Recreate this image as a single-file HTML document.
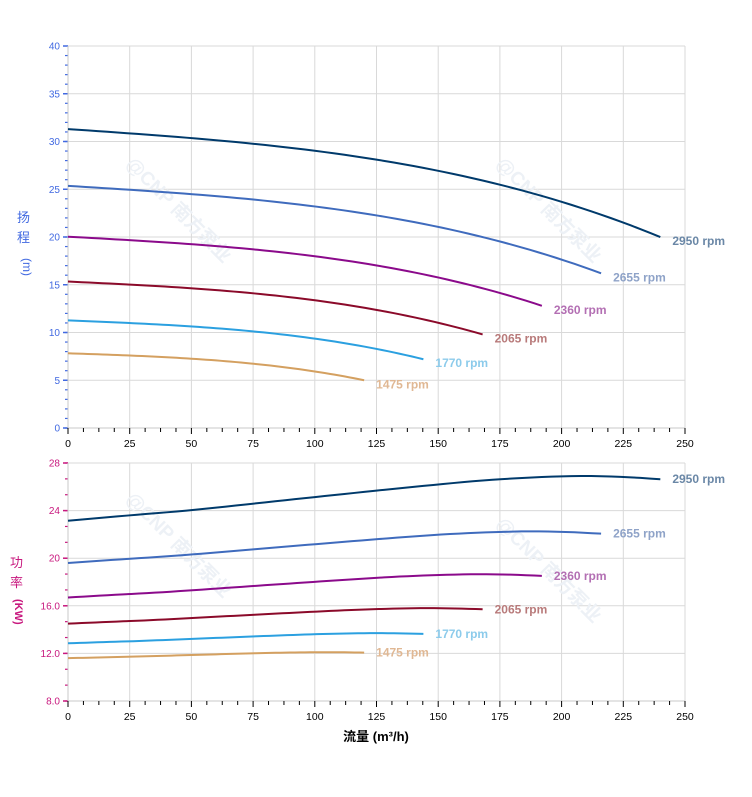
<!DOCTYPE html>
<html><head><meta charset="utf-8">
<style>
html,body{margin:0;padding:0;background:#fff;}
svg{display:block;font-family:"Liberation Sans","Noto Sans CJK SC",sans-serif;}
</style></head>
<body>
<svg id="c" width="752" height="797" viewBox="0 0 752 797" xmlns="http://www.w3.org/2000/svg">
<g id="grid"></g>
<g id="wm" fill="#edf1f6" font-size="19" font-weight="bold">
<text x="0" y="0" transform="translate(125,165) rotate(45)">@CNP 南方泵业</text>
<text x="0" y="0" transform="translate(495,165) rotate(45)">@CNP 南方泵业</text>
<text x="0" y="0" transform="translate(125,500) rotate(45)">@CNP 南方泵业</text>
<text x="0" y="0" transform="translate(495,525) rotate(45)">@CNP 南方泵业</text>
</g>
<g id="curves" fill="none" stroke-width="2"></g>
<g id="labels" font-size="12" font-weight="bold"></g>
<g fill="#4169e1" font-size="13">
<text x="17" y="222">扬</text><text x="17" y="242">程</text>
<text x="23" y="258" transform="rotate(90 23 258)" font-size="12">(m)</text>
</g>
<g fill="#c8187e" font-size="13">
<text x="10" y="567">功</text><text x="10" y="587">率</text>
<text x="15" y="599" transform="rotate(90 15 599)" font-size="11" font-weight="bold">(KW)</text>
</g>
<text x="376" y="741" text-anchor="middle" font-size="13" font-weight="bold" fill="#000">流量 (m³/h)</text>
</svg>
<script>
const NS="http://www.w3.org/2000/svg";
const g=document.getElementById('grid'),cv=document.getElementById('curves'),lb=document.getElementById('labels');
function el(p,tag,a,txt){const e=document.createElementNS(NS,tag);for(const k in a)e.setAttribute(k,a[k]);if(txt!==undefined)e.textContent=txt;p.appendChild(e);return e;}
const X0=68,X1=685;const xs=q=>X0+q*(X1-X0)/250;
const T0=46,T1=428;const yT=h=>T1-h*(T1-T0)/40;
const B0=463,B1=701;const yB=p=>B1-(p-8)*(B1-B0)/20;
function chart(top,bot,yvals,yf,ycol,fmt,minorStep,minor0,minorMax){
  for(let q=0;q<=250;q+=25){el(g,'line',{x1:xs(q),x2:xs(q),y1:top,y2:bot,stroke:'#d9d9d9','stroke-width':1});}
  for(const v of yvals){el(g,'line',{x1:X0,x2:X1,y1:yf(v),y2:yf(v),stroke:'#d9d9d9','stroke-width':1});
    el(g,'line',{x1:X0-5,x2:X0,y1:yf(v),y2:yf(v),stroke:ycol,'stroke-width':1.5});
    el(g,'text',{x:X0-8,y:yf(v)+3.5,'text-anchor':'end','font-size':10,fill:ycol},fmt(v));}
  for(let v=minor0;v<minorMax;v+=minorStep){el(g,'line',{x1:X0-3,x2:X0,y1:yf(v),y2:yf(v),stroke:ycol,'stroke-width':1.2});}
  el(g,'line',{x1:X0,x2:X0,y1:top,y2:bot,stroke:'#c8c8c8','stroke-width':1});
  el(g,'line',{x1:X0,x2:X1,y1:bot,y2:bot,stroke:'#c8c8c8','stroke-width':1});
  for(let q=0;q<=250.01;q+=6.25){const maj=Math.abs(q/25-Math.round(q/25))<1e-6;
    el(g,'line',{x1:xs(q),x2:xs(q),y1:bot,y2:bot+(maj?6:4),stroke:'#000','stroke-width':1});}
  for(let q=0;q<=250;q+=25)el(g,'text',{x:xs(q),y:bot+19,'text-anchor':'middle','font-size':10.5,fill:'#000'},q);
}
chart(T0,T1,[0,5,10,15,20,25,30,35,40],yT,'#4169e1',v=>v,1,0,40);
chart(B0,B1,[8,12,16,20,24,28],yB,'#c8187e',v=>(v%1===0&&v!==20&&v!==24&&v!==28)?v.toFixed(1):String(v),4/3,8,28);
const series=[
 {r:1,c:'#003a6b',lc:'#6a87a6',p0:23.15,rise:3.75,t:'2950 rpm'},
 {r:0.9,c:'#3f6bbd',lc:'#8fa3c8',p0:19.6,rise:2.65,t:'2655 rpm'},
 {r:0.8,c:'#8b0a8b',lc:'#b36fb3',p0:16.7,rise:1.95,t:'2360 rpm'},
 {r:0.7,c:'#8b0a2a',lc:'#b87a7a',p0:14.5,rise:1.3,t:'2065 rpm'},
 {r:0.6,c:'#2ba0e0',lc:'#8ccbeb',p0:12.85,rise:0.85,t:'1770 rpm'},
 {r:0.5,c:'#d4a060',lc:'#e0b894',p0:11.6,rise:0.5,t:'1475 rpm'}];
const H=q=>31.3-0.0176*q-5.12e-7*q*q*q;
const fp=[[0,0],[0.104,0.12],[0.21,0.24],[0.417,0.53],[0.6,0.78],[0.72,0.92],[0.85,1],[0.93,0.985],[1,0.93]];
function f(u){for(let i=0;i<fp.length-1;i++){const a=fp[i],b=fp[i+1];if(u<=b[0]){
  const m0=i>0?(b[1]-fp[i-1][1])/(b[0]-fp[i-1][0]):(b[1]-a[1])/(b[0]-a[0]);
  const n=fp[i+2];const m1=n?(n[1]-a[1])/(n[0]-a[0]):(b[1]-a[1])/(b[0]-a[0]);
  const h=b[0]-a[0],t=(u-a[0])/h;const t2=t*t,t3=t2*t;
  return (2*t3-3*t2+1)*a[1]+(t3-2*t2+t)*h*m0+(-2*t3+3*t2)*b[1]+(t3-t2)*h*m1;}}return fp[fp.length-1][1];}
for(const s of series){
  const qm=240*s.r;let d1='',d2='';
  for(let i=0;i<=60;i++){const q=qm*i/60;const h=s.r*s.r*H(q/s.r);const p=s.p0+s.rise*f(i/60);
    d1+=(i?'L':'M')+xs(q).toFixed(2)+' '+yT(h).toFixed(2);
    d2+=(i?'L':'M')+xs(q).toFixed(2)+' '+yB(p).toFixed(2);}
  el(cv,'path',{d:d1,stroke:s.c});el(cv,'path',{d:d2,stroke:s.c});
  const hE=s.r*s.r*H(240);const pE=s.p0+s.rise*f(1);
  el(lb,'text',{x:xs(qm)+12,y:yT(hE)+8,fill:s.lc},s.t);
  el(lb,'text',{x:xs(qm)+12,y:yB(pE)+4,fill:s.lc},s.t);
}
</script>
</body></html>
